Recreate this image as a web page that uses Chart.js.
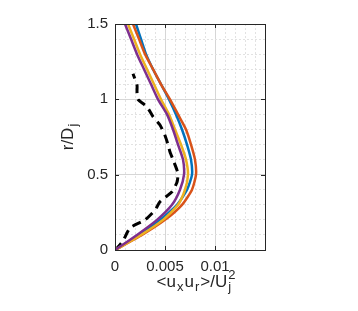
<!DOCTYPE html>
<html><head><meta charset="utf-8">
<script src="https://cdn.jsdelivr.net/npm/chart.js@4"></script>
<style>html,body{margin:0;padding:0;background:#fff;}canvas{display:block;}</style>
</head><body>
<canvas id="c" width="358" height="311"></canvas>
<script>
// ---- data ----
const rModel = [0, 0.1, 0.2, 0.3, 0.4, 0.5, 0.6, 0.7, 0.8, 0.9, 1.0, 1.1, 1.2, 1.3, 1.4, 1.5];
const blueVals   = [0, 0.0024, 0.0045, 0.0062, 0.0072, 0.0077, 0.0076, 0.0072, 0.0067, 0.0061, 0.0054, 0.0046, 0.0038, 0.0031, 0.0026, 0.0021];
const orangeVals = [0, 0.0027, 0.0050, 0.0067, 0.0077, 0.0081, 0.0080, 0.0076, 0.0071, 0.0063, 0.0055, 0.0046, 0.0038, 0.0030, 0.0024, 0.0018];
const yellowVals = [0, 0.0026, 0.0048, 0.0063, 0.0070, 0.0073, 0.0071, 0.0066, 0.0060, 0.0054, 0.0046, 0.0039, 0.0032, 0.0025, 0.0019, 0.0013];
const purpleVals = [0, 0.0022, 0.0042, 0.0057, 0.0065, 0.0069, 0.0068, 0.0063, 0.0058, 0.0052, 0.0043, 0.0036, 0.0029, 0.0022, 0.0016, 0.0010];
const rExp   = [0, 0.02, 0.06, 0.146, 0.2, 0.265, 0.32, 0.387, 0.45, 0.5, 0.53, 0.6, 0.65, 0.7, 0.76, 0.83, 0.885, 0.95, 1.0, 1.05, 1.095, 1.17];
const expVals = [0, 0.0003, 0.0008, 0.0015, 0.0030, 0.0040, 0.0045, 0.0057, 0.0062, 0.0063, 0.0062, 0.0058, 0.0055, 0.0053, 0.0050, 0.0045, 0.0038, 0.0032, 0.0023, 0.0022, 0.0022, 0.0018];
const xTickLabels = [0, 0.005, 0.01];
const yTickLabels = [0, 0.5, 1, 1.5];
const xMajorGrid = [0.005, 0.01];
const yMajorGrid = [0.5, 1];

const pts = (xs, ys) => xs.map((v, i) => ({x: v, y: ys[i]}));
const near = (v, list, eps) => list.some(t => Math.abs(v - t) < eps);

const FONT = '"Liberation Sans", Arial, Helvetica, sans-serif';

const framePlugin = {
  id: 'frame',
  afterDraw(chart) {
    const ctx = chart.ctx;
    const {left, right, top, bottom} = chart.chartArea;
    const xs = chart.scales.x, ys = chart.scales.y;
    ctx.save();
    ctx.strokeStyle = '#262626';
    ctx.lineWidth = 1;
    ctx.strokeRect(Math.round(left) + 0.5, Math.round(top) + 0.5, Math.round(right - left), Math.round(bottom - top));
    const tl = 4;
    ctx.beginPath();
    xTickLabels.forEach(v => {
      const p = Math.round(xs.getPixelForValue(v)) + 0.5;
      ctx.moveTo(p, bottom); ctx.lineTo(p, bottom - tl);
      ctx.moveTo(p, top); ctx.lineTo(p, top + tl);
    });
    yTickLabels.forEach(v => {
      const p = Math.round(ys.getPixelForValue(v)) + 0.5;
      ctx.moveTo(left, p); ctx.lineTo(left + tl, p);
      ctx.moveTo(right, p); ctx.lineTo(right - tl, p);
    });
    ctx.stroke();

    ctx.fillStyle = '#262626';
    ctx.textBaseline = 'alphabetic';
    ctx.textAlign = 'left';
    const mainF = '17px ' + FONT, subF = '13px ' + FONT;
    const gap = 1;
    // y title: r/D_j
    ctx.save();
    ctx.translate(73, 137);
    ctx.rotate(-Math.PI / 2);
    ctx.font = mainF;
    const w1 = ctx.measureText('r/D').width;
    ctx.font = subF;
    const w2 = ctx.measureText('j').width;
    let x0 = -(w1 + gap + w2) / 2;
    ctx.font = mainF; ctx.fillText('r/D', x0, 0);
    ctx.font = subF; ctx.fillText('j', x0 + w1 + gap, 4);
    ctx.restore();

    // x title: <u_x u_r>/U_j^2
    const parts = [
      ['<u', mainF, 0, gap], ['x', subF, 4, gap], ['u', mainF, 0, gap], ['r', subF, 4, gap], ['>/U', mainF, 0, gap]
    ];
    let total = 0;
    parts.forEach(p => { ctx.font = p[1]; p.push(ctx.measureText(p[0]).width); total += p[4] + p[3]; });
    ctx.font = subF;
    const wj = Math.max(ctx.measureText('j').width, ctx.measureText('2').width);
    total += wj;
    let x = 196 - total / 2;
    const base = 287;
    parts.forEach(p => { ctx.font = p[1]; ctx.fillText(p[0], x, base + p[2]); x += p[4] + p[3]; });
    ctx.font = subF;
    ctx.fillText('j', x, base + 4);
    ctx.fillText('2', x, base - 8);
    ctx.restore();
  }
};

const minorGrid = '#e2e2e2';
const majorGrid = '#d6d6d6';

new Chart(document.getElementById('c'), {
  type: 'scatter',
  data: {
    datasets: [
      {label: 'purple', data: pts(purpleVals, rModel), borderColor: '#7E2F8E', order: 0},
      {label: 'yellow', data: pts(yellowVals, rModel), borderColor: '#EDB120', order: 1},
      {label: 'orange', data: pts(orangeVals, rModel), borderColor: '#D95319', order: 2},
      {label: 'blue', data: pts(blueVals, rModel), borderColor: '#0072BD', order: 3},
      {label: 'exp', data: pts(expVals, rExp), borderColor: '#000000', borderDash: [9, 6], borderWidth: 3, order: 4}
    ].map(d => Object.assign({showLine: true, pointRadius: 0, borderWidth: 2.5, tension: 0.2, fill: false}, d))
  },
  options: {
    responsive: false,
    animation: false,
    devicePixelRatio: 1,
    layout: {padding: {left: 0, top: 24, right: 93, bottom: 0}},
    plugins: {legend: {display: false}, tooltip: {enabled: false}},
    scales: {
      x: {
        type: 'linear', min: 0, max: 0.015, position: 'bottom',
        afterFit: s => { s.height = 61; },
        afterBuildTicks: s => { const t = []; for (let i = 0; i <= 15; i++) t.push({value: i / 1000}); s.ticks = t; },
        ticks: {
          autoSkip: false, maxRotation: 0, padding: 8,
          color: '#262626', font: {family: FONT, size: 15},
          callback: v => near(v, xTickLabels, 1e-7) ? String(+v.toFixed(3)) : ''
        },
        border: {display: false, dash: [2, 2]},
        grid: {
          drawTicks: false,
          color: c => near(c.tick.value, [0, 0.015].concat(xMajorGrid), 1e-7) ? 'rgba(0,0,0,0)' : minorGrid,
          lineWidth: 1
        }
      },
      x2: {
        type: 'linear', min: 0, max: 0.015, position: 'bottom',
        afterFit: s => { s.height = 0; },
        afterBuildTicks: s => { s.ticks = xMajorGrid.map(v => ({value: v})); },
        ticks: {display: false},
        border: {display: false},
        grid: {drawTicks: false, color: majorGrid, lineWidth: 1}
      },
      y: {
        type: 'linear', min: 0, max: 1.5, position: 'left',
        afterFit: s => { s.width = 115; },
        afterBuildTicks: s => { const t = []; for (let i = 0; i <= 15; i++) t.push({value: i / 10}); s.ticks = t; },
        ticks: {
          autoSkip: false, padding: 7,
          color: '#262626', font: {family: FONT, size: 15},
          callback: v => near(v, yTickLabels, 1e-7) ? String(+v.toFixed(1)) : ''
        },
        border: {display: false, dash: [2, 2]},
        grid: {
          drawTicks: false,
          color: c => near(c.tick.value, [0, 1.5].concat(yMajorGrid), 1e-7) ? 'rgba(0,0,0,0)' : minorGrid,
          lineWidth: 1
        }
      },
      y2: {
        type: 'linear', min: 0, max: 1.5, position: 'left',
        afterFit: s => { s.width = 0; },
        afterBuildTicks: s => { s.ticks = yMajorGrid.map(v => ({value: v})); },
        ticks: {display: false},
        border: {display: false},
        grid: {drawTicks: false, color: majorGrid, lineWidth: 1}
      }
    }
  },
  plugins: [framePlugin]
});
</script>
</body></html>
